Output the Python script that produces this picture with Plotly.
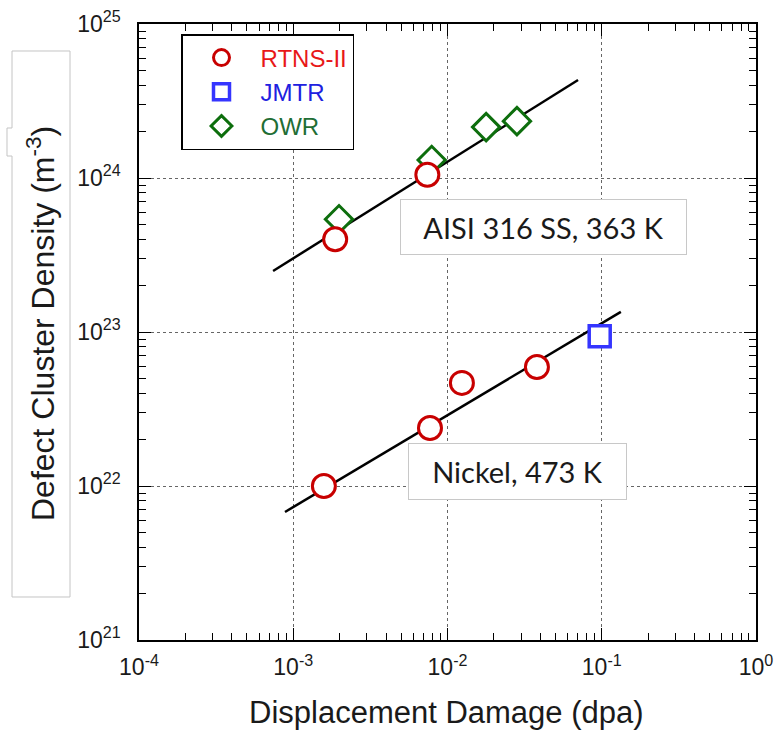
import plotly.graph_objects as go

# ---------------- data ----------------
ss_rtns_x = [1.87e-3, 7.4e-3]
ss_rtns_y = [4.0e23, 1.05e24]
ss_owr_x = [1.98e-3, 7.9e-3, 0.0178, 0.0282]
ss_owr_y = [5.4e23, 1.31e24, 2.14e24, 2.34e24]
ni_rtns_x = [1.58e-3, 7.7e-3, 0.0124, 0.038]
ni_rtns_y = [1.0e22, 2.38e22, 4.67e22, 5.93e22]
ni_jmtr_x = [0.097]
ni_jmtr_y = [9.4e22]
fit_ss_x = [7.4e-4, 0.0702]
fit_ss_y = [2.49e23, 4.33e24]
fit_ni_x = [8.84e-4, 0.133]
fit_ni_y = [6.78e21, 1.35e23]

x_tickvals = [1e-4, 1e-3, 1e-2, 1e-1, 1]
x_ticktext = ["10<sup>-4</sup>", "10<sup>-3</sup>", "10<sup>-2</sup>", "10<sup>-1</sup>", "10<sup>0</sup>"]
y_tickvals = [1e21, 1e22, 1e23, 1e24, 1e25]
y_ticktext = ["10<sup>21</sup>", "10<sup>22</sup>", "10<sup>23</sup>", "10<sup>24</sup>", "10<sup>25</sup>"]

# ---------------- layout geometry ----------------
W, H = 775, 733
L, R, T, B = 139, 19, 24, 93
PW, PH = W - L - R, H - T - B

def px(x):
    return (x - L) / PW

def py(y):
    return (H - B - y) / PH

RED = "#c80000"
BLUE = "#3535ff"
GREEN = "#0d6e0d"
ARIAL = "Liberation Sans, Arial, sans-serif"

fig = go.Figure()

fig.add_trace(go.Scatter(x=fit_ss_x, y=fit_ss_y, mode="lines",
                         line=dict(color="black", width=2.5), showlegend=False, hoverinfo="skip"))
fig.add_trace(go.Scatter(x=fit_ni_x, y=fit_ni_y, mode="lines",
                         line=dict(color="black", width=2.5), showlegend=False, hoverinfo="skip"))

fig.add_trace(go.Scatter(x=ss_owr_x, y=ss_owr_y, mode="markers",
                         name='<span style="color:#1f6e35">OWR</span>',
                         legendrank=3, legendgroup="c",
                         marker=dict(symbol="diamond", size=21, color="white",
                                     line=dict(color=GREEN, width=3))))
fig.add_trace(go.Scatter(x=ni_jmtr_x, y=ni_jmtr_y, mode="markers",
                         name='<span style="color:#2020e0">JMTR</span>',
                         legendrank=2, legendgroup="b",
                         marker=dict(symbol="square", size=21, color="white",
                                     line=dict(color=BLUE, width=3.5))))
fig.add_trace(go.Scatter(x=ss_rtns_x + ni_rtns_x, y=ss_rtns_y + ni_rtns_y, mode="markers",
                         name='<span style="color:#e81818">RTNS-II</span>',
                         legendrank=1, legendgroup="a",
                         marker=dict(symbol="circle", size=23, color="white",
                                     line=dict(color=RED, width=3))))

axis_common = dict(
    type="log", automargin=False,
    showline=True, linecolor="black", linewidth=1.5,
    mirror="allticks", ticks="inside", ticklen=12, tickwidth=1.2, tickcolor="black",
    showgrid=True, gridcolor="#666666", griddash="dot", gridwidth=1,
    zeroline=False,
    tickmode="array",
    tickfont=dict(family=ARIAL, size=23, color="#1a1a1a"),
    minor=dict(ticks="inside", ticklen=7, tickwidth=1.2, tickcolor="black",
               dtick="D1", showgrid=False),
)

fig.update_xaxes(axis_common, range=[-4, 0], tickvals=x_tickvals, ticktext=x_ticktext,
                 ticklabelstandoff=6)
fig.update_yaxes(axis_common, range=[21, 25], tickvals=y_tickvals, ticktext=y_ticktext,
                 ticklabelstandoff=12)

# y-title frame with notch
pts = [(12, 51), (70, 51), (70, 597), (12, 597), (12, 156), (7, 156), (7, 128), (12, 128)]
path = "M " + " L ".join(f"{px(a):.5f},{py(b):.5f}" for a, b in pts) + " Z"

fig.update_layout(
    width=W, height=H,
    margin=dict(l=L, r=R, t=T, b=B, autoexpand=False),
    paper_bgcolor="white", plot_bgcolor="white",
    showlegend=True,
    legend=dict(x=px(181), y=py(34), xanchor="left", yanchor="top",
                bgcolor="white", bordercolor="black", borderwidth=1.5,
                font=dict(family=ARIAL, size=24),
                itemwidth=68, tracegroupgap=0, traceorder="normal"),
    shapes=[dict(type="path", path=path, xref="paper", yref="paper",
                 line=dict(color="#c4c4c4", width=1), fillcolor="rgba(0,0,0,0)")],
    annotations=[
        dict(text="Displacement Damage (dpa)", xref="paper", yref="paper",
             x=px(446), y=py(712), showarrow=False, xanchor="center", yanchor="middle",
             font=dict(family=ARIAL, size=31, color="#1a1a1a")),
        dict(text="Defect Cluster Density (m<sup>-3</sup>)", xref="paper", yref="paper",
             x=px(41), y=py(324), showarrow=False, textangle=-90,
             xanchor="center", yanchor="middle",
             font=dict(family=ARIAL, size=32, color="#1a1a1a")),
        dict(text="AISI 316 SS, 363 K", xref="paper", yref="paper",
             x=px(543.5), y=py(227), showarrow=False, xanchor="center", yanchor="middle",
             width=285, height=54, borderpad=0, borderwidth=1, bordercolor="#c8c8c8",
             bgcolor="white", font=dict(family="Lato", size=29, color="#1a1a1a")),
        dict(text="Nickel, 473 K", xref="paper", yref="paper",
             x=px(517.5), y=py(471.5), showarrow=False, xanchor="center", yanchor="middle",
             width=217, height=55, borderpad=0, borderwidth=1, bordercolor="#c8c8c8",
             bgcolor="white", font=dict(family="Lato", size=29, color="#1a1a1a")),
    ],
)

fig.write_html("out.html", config={"displayModeBar": False},
               post_script="document.body.style.margin='0';")
